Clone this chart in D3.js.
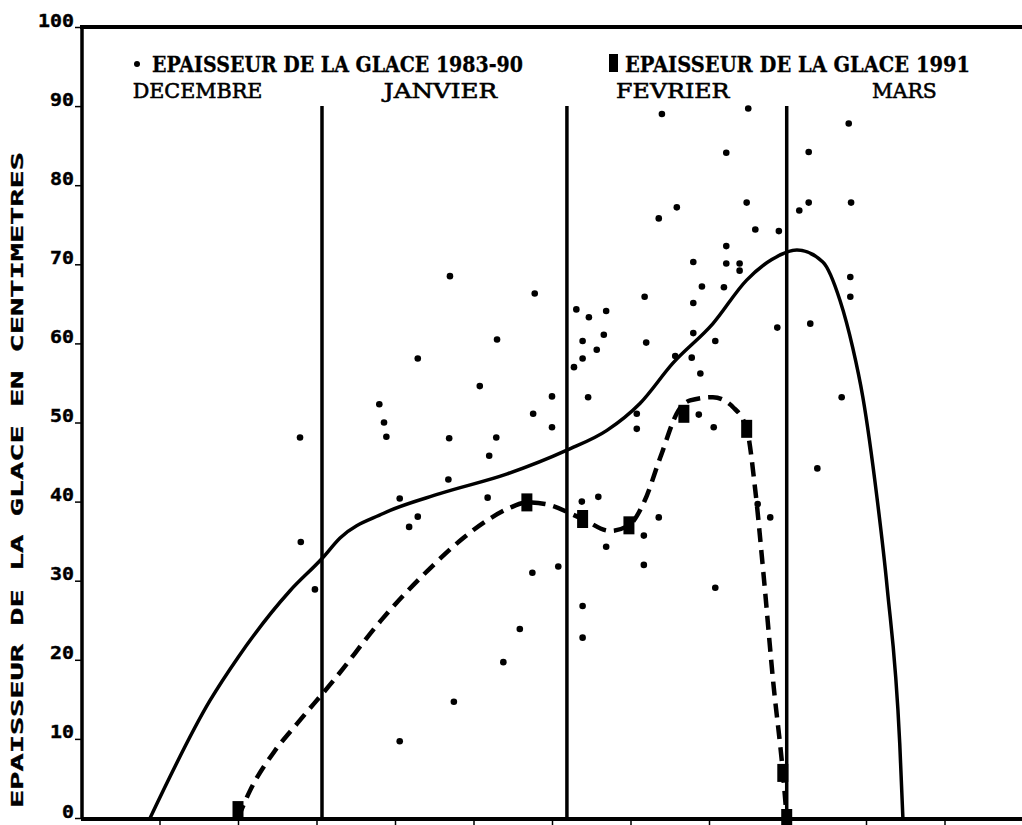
<!DOCTYPE html>
<html><head><meta charset="utf-8">
<script src="https://cdn.jsdelivr.net/npm/d3@7"></script>
<style>body{margin:0;background:#fff}svg{display:block}</style>
</head><body><svg id="c" width="1022" height="825"></svg>
<script>
// ---- data (days counted from 1 December; thickness in cm) ----
const yTicks = [0,10,20,30,40,50,60,70,80,90,100];
const xTicks = [10,20,30,40,50,60,70,80,90,100,110];
const months = ["DECEMBRE","JANVIER","FEVRIER","MARS"];
const monthBoundaries = [30.7, 61.9, 89.9];
const monthLengths = [30.7, 31.2, 28.0, 31.0];
const legendLabels = ["EPAISSEUR DE LA GLACE 1983-90", "EPAISSEUR DE LA GLACE 1991"];
const yTitle = "EPAISSEUR DE LA GLACE EN CENTIMETRES";

const obsDays = [27.9,28.0,29.8,57.8,63.1,64.7,66.9,71.8,53.0,63.9,66.6,72.0,42.9,63.9,65.7,62.8,50.8,60.0,64.6,38.0,38.6,38.9,57.6,60.0,46.9,52.9,52.0,70.8,70.8,75.7,46.8,40.6,42.9,41.8,51.8,63.8,65.9,73.6,71.7,66.9,57.5,60.8,71.7,63.9,55.9,63.9,53.8,47.5,40.6,74.0,75.9,73.6,47.0,85.0,97.8,82.2,92.7,84.8,92.7,91.5,98.1,85.9,88.9,82.2,78.0,82.2,83.9,83.9,98.0,79.1,81.9,78.0,88.7,92.9,98.0,78.0,80.8,77.8,78.9,96.9,78.7,80.6,93.8,87.8,86.2,80.8];
const obsValues = [48.1,34.9,28.9,66.3,64.3,63.3,64.1,65.9,60.5,60.3,61.1,60.1,58.1,58.1,59.2,57.0,54.6,53.3,53.2,52.3,50.0,48.2,51.1,49.4,48.0,48.1,45.8,51.1,49.2,58.4,42.8,40.4,38.1,36.8,40.5,40.0,40.6,38.0,35.7,34.3,31.0,31.8,32.0,26.8,23.9,22.8,19.7,14.7,9.7,89.0,77.2,75.8,68.5,89.7,87.8,84.1,84.2,77.8,77.8,76.8,77.8,74.4,74.2,72.3,70.3,70.1,70.1,69.2,68.4,67.2,67.1,65.1,62.0,62.5,65.9,61.3,60.3,58.2,56.2,53.2,51.0,49.4,44.2,38.0,39.7,29.1];

const meanDays   = [8.8,16.4,20.0,26.6,30.7,33.0,38.5,45.7,54.3,61.9,67.0,71.2,75.4,80.5,84.8,88.0,91.2,94.5,96.7,98.3,99.6,101.4,102.7,104.3,104.7];
const meanValues = [0,14.8,20.3,28.7,32.8,35.4,38.5,41.0,43.5,46.5,49.0,52.4,57.5,62.5,68.0,70.6,71.8,70.3,65.4,59.5,53.2,40.5,29.1,9.4,0];

const curve1991Days   = [20.0,21.5,24.7,27.5,32.1,38.5,44.5,48.7,51.7,54.6,56.8,59.1,63.9,67.4,69.8,71.8,73.8,76.1,77.6,80.5,83.1,84.8,85.9,86.9,88.2,89.4,89.9];
const curve1991Values = [0,3.4,8.5,11.9,17.3,25.3,31.6,35.4,37.6,39.2,39.9,39.7,37.8,36.3,37.0,40.1,45.6,51.5,52.8,53.2,51.9,49.2,41.4,31.3,17.0,5.9,0];

const marker1991Days   = [20.0,56.8,63.9,69.8,76.8,84.8,89.4,89.9];
const marker1991Values = [1.0,39.9,37.8,37.0,51.1,49.2,5.7,0];

// ---- drawing ----
const svg = d3.select("#c");
const x = d3.scaleLinear().domain([0,120]).range([81,1023]);
const y = d3.scaleLinear().domain([0,100]).range([818,27]);
const ink = "#000";

// axes
const ya = svg.append("g").attr("transform","translate(81,0)")
  .call(d3.axisLeft(y).tickValues(yTicks).tickSize(6).tickPadding(1));
ya.select(".domain").remove();
ya.selectAll("line").attr("stroke",ink).attr("stroke-width",1.5);
ya.selectAll("text").attr("dy","-1px")
  .attr("font-family","DejaVu Sans Mono").attr("font-weight","bold").attr("font-size",17).attr("fill",ink)
  .attr("stroke",ink).attr("stroke-width",0.4)
  .attr("textLength",d=>String(d).length*12).attr("lengthAdjust","spacingAndGlyphs");

const xa = svg.append("g").attr("transform","translate(0,"+y(0)+")")
  .call(d3.axisBottom(x).tickValues(xTicks).tickSize(7).tickFormat(""));
xa.select(".domain").remove();
xa.selectAll("line").attr("stroke",ink).attr("stroke-width",1.5);

// frame
svg.append("line").attr("x1",x(0)-1).attr("x2",1022).attr("y1",y(100)).attr("y2",y(100)).attr("stroke",ink).attr("stroke-width",4);
svg.append("line").attr("x1",x(0)+1).attr("x2",x(0)+1).attr("y1",y(100)).attr("y2",y(0)).attr("stroke",ink).attr("stroke-width",3.5);
svg.append("line").attr("x1",x(0)).attr("x2",1022).attr("y1",y(0)+1).attr("y2",y(0)+1).attr("stroke",ink).attr("stroke-width",4);

// month boundaries
svg.append("g").selectAll("line").data(monthBoundaries).join("line")
  .attr("x1",d=>x(d)).attr("x2",d=>x(d)).attr("y1",y(0)).attr("y2",y(90))
  .attr("stroke",ink).attr("stroke-width",3.5);

// month labels
const starts = [0].concat(monthBoundaries);
svg.append("g").selectAll("text").data(months).join("text")
  .attr("x",(d,i)=>x(starts[i]+monthLengths[i]/2)-4).attr("y",98)
  .attr("text-anchor","middle").attr("font-family","DejaVu Serif").attr("font-size",21)
  .attr("fill",ink).attr("stroke",ink).attr("stroke-width",0.6)
  .attr("textLength",d=>d.length*16.2).attr("lengthAdjust","spacingAndGlyphs").text(d=>d);

// legend
svg.append("circle").attr("cx",137).attr("cy",64).attr("r",3).attr("fill",ink);
svg.append("text").attr("x",152).attr("y",72).attr("font-family","DejaVu Serif").attr("font-weight","bold")
  .attr("font-size",21.5).attr("fill",ink).attr("stroke",ink).attr("stroke-width",0.3)
  .attr("textLength",371).attr("lengthAdjust","spacingAndGlyphs").text(legendLabels[0]);
svg.append("rect").attr("x",609).attr("y",54).attr("width",9).attr("height",18).attr("fill",ink);
svg.append("text").attr("x",625).attr("y",72).attr("font-family","DejaVu Serif").attr("font-weight","bold")
  .attr("font-size",21.5).attr("fill",ink).attr("stroke",ink).attr("stroke-width",0.3)
  .attr("textLength",345).attr("lengthAdjust","spacingAndGlyphs").text(legendLabels[1]);

// y title
svg.append("text").attr("transform","translate(23,808) rotate(-90)")
  .attr("font-family","DejaVu Sans Mono").attr("font-weight","bold").attr("font-size",15).attr("fill",ink)
  .attr("stroke",ink).attr("stroke-width",0.3)
  .attr("textLength",656).attr("lengthAdjust","spacingAndGlyphs").text(yTitle);

// scatter 1983-90
svg.append("g").selectAll("circle").data(obsDays.map((d,i)=>[d,obsValues[i]])).join("circle")
  .attr("cx",d=>x(d[0])).attr("cy",d=>y(d[1])).attr("r",3.3).attr("fill",ink);

// mean curve 1983-90
const line = d3.line().x(d=>x(d[0])).y(d=>y(d[1])).curve(d3.curveMonotoneX);
svg.append("path").datum(meanDays.map((d,i)=>[d,meanValues[i]]))
  .attr("d",line).attr("fill","none").attr("stroke",ink).attr("stroke-width",3.5).attr("stroke-linejoin","round");

// 1991 curve
svg.append("path").datum(curve1991Days.map((d,i)=>[d,curve1991Values[i]]))
  .attr("d",line).attr("fill","none").attr("stroke",ink).attr("stroke-width",4.5)
  .attr("stroke-dasharray","14,8");

// 1991 markers
svg.append("g").selectAll("rect").data(marker1991Days.map((d,i)=>[d,marker1991Values[i]])).join("rect")
  .attr("x",d=>x(d[0])-5.5).attr("y",d=>y(d[1])-9).attr("width",11).attr("height",18).attr("fill",ink);
</script></body></html>
